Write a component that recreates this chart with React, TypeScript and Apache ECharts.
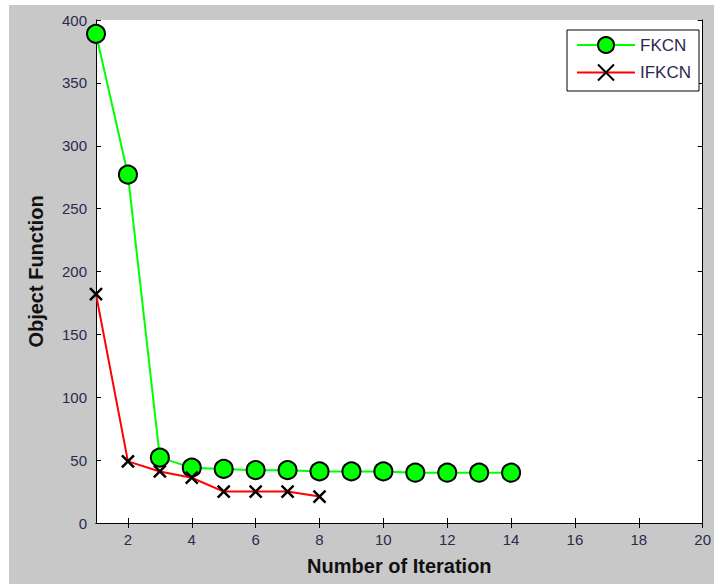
import React, { useEffect, useRef } from "react";
import * as echarts from "echarts";

const fkcnIterations = [1, 2, 3, 4, 5, 6, 7, 8, 9, 10, 11, 12, 13, 14];
const fkcnValues = [389, 277, 52, 44, 43, 42, 42, 41, 41, 41, 40, 40, 40, 40];
const ifkcnIterations = [1, 2, 3, 4, 5, 6, 7, 8];
const ifkcnValues = [182, 49, 41, 36, 25, 25, 25, 21];
const xTickValues = [2, 4, 6, 8, 10, 12, 14, 16, 18, 20];
const seriesNames = ["FKCN", "IFKCN"];
const xName = "Number of Iteration";
const yName = "Object Function";

const FONT = "'Liberation Sans', Arial, sans-serif";
const CROSS = "path://M0 0L10 10M10 0L0 10";

export default function App() {
  const ref = useRef<HTMLDivElement>(null);
  useEffect(() => {
    if (!ref.current) return;
    const chart = echarts.init(ref.current, undefined, { renderer: "svg" });
    const axisLine = { show: true, lineStyle: { color: "#000", width: 1 } };
    const xTick = { show: true, inside: true, length: 5, customValues: xTickValues, lineStyle: { color: "#000" } };
    const yTick = { show: true, inside: true, length: 5, lineStyle: { color: "#000" } };
    chart.setOption({
      animation: false,
      backgroundColor: "#c8c8c8",
      grid: {
        left: 87,
        top: 15,
        right: 5,
        bottom: 61,
        show: true,
        backgroundColor: "#fff",
        borderWidth: 0,
      },
      legend: {
        orient: "vertical",
        left: 558,
        top: 25,
        data: seriesNames,
        itemWidth: 58,
        itemHeight: 20,
        itemGap: 8,
        itemTextGap: 7,
        padding: [6, 8, 8, 9],
        borderColor: "#000",
        borderWidth: 1,
        borderRadius: 0,
        backgroundColor: "#fff",
        textStyle: { fontFamily: FONT, fontSize: 17, color: "#2a2a50" },
      },
      xAxis: [
        {
          type: "value",
          min: 1,
          max: 20,
          position: "bottom",
          axisLine,
          axisTick: xTick,
          splitLine: { show: false },
          axisLabel: {
            customValues: xTickValues,
            fontFamily: FONT,
            fontSize: 15,
            color: "#2a2a50",
            margin: 9,
          },
          name: xName,
          nameLocation: "middle",
          nameGap: 33,
          nameTextStyle: { fontFamily: FONT, fontSize: 20, fontWeight: "bold", color: "#111" },
        },
        {
          type: "value",
          min: 1,
          max: 20,
          position: "top",
          axisLine,
          axisTick: xTick,
          splitLine: { show: false },
          axisLabel: { show: false },
        },
      ],
      yAxis: [
        {
          type: "value",
          min: 0,
          max: 400,
          interval: 50,
          position: "left",
          axisLine,
          axisTick: yTick,
          splitLine: { show: false },
          axisLabel: { fontFamily: FONT, fontSize: 15, color: "#2a2a50", margin: 9 },
          name: yName,
          nameLocation: "middle",
          nameGap: 50,
          nameRotate: 90,
          nameTextStyle: { fontFamily: FONT, fontSize: 20, fontWeight: "bold", color: "#111" },
        },
        {
          type: "value",
          min: 0,
          max: 400,
          interval: 50,
          position: "right",
          axisLine,
          axisTick: yTick,
          splitLine: { show: false },
          axisLabel: { show: false },
        },
      ],
      series: [
        {
          name: seriesNames[0],
          type: "line",
          xAxisIndex: 0,
          yAxisIndex: 0,
          data: fkcnIterations.map((x, i) => [x, fkcnValues[i]]),
          lineStyle: { color: "#00ff00", width: 2 },
          symbol: "circle",
          symbolSize: 18,
          itemStyle: { color: "#00ff00", borderColor: "#000", borderWidth: 2 },
          z: 3,
        },
        {
          name: seriesNames[1],
          type: "line",
          xAxisIndex: 0,
          yAxisIndex: 0,
          data: ifkcnIterations.map((x, i) => [x, ifkcnValues[i]]),
          lineStyle: { color: "#ff0000", width: 2 },
          symbol: CROSS,
          symbolSize: 12,
          itemStyle: { color: "none", borderColor: "#000", borderWidth: 2.5 },
          z: 4,
        },
      ],
    });
    return () => chart.dispose();
  }, []);
  return (
    <div style={{ position: "absolute", left: 0, top: 0, width: 714, height: 584, background: "#fff" }}>
      <div ref={ref} style={{ position: "absolute", left: 9, top: 5, width: 705, height: 579 }} />
    </div>
  );
}
